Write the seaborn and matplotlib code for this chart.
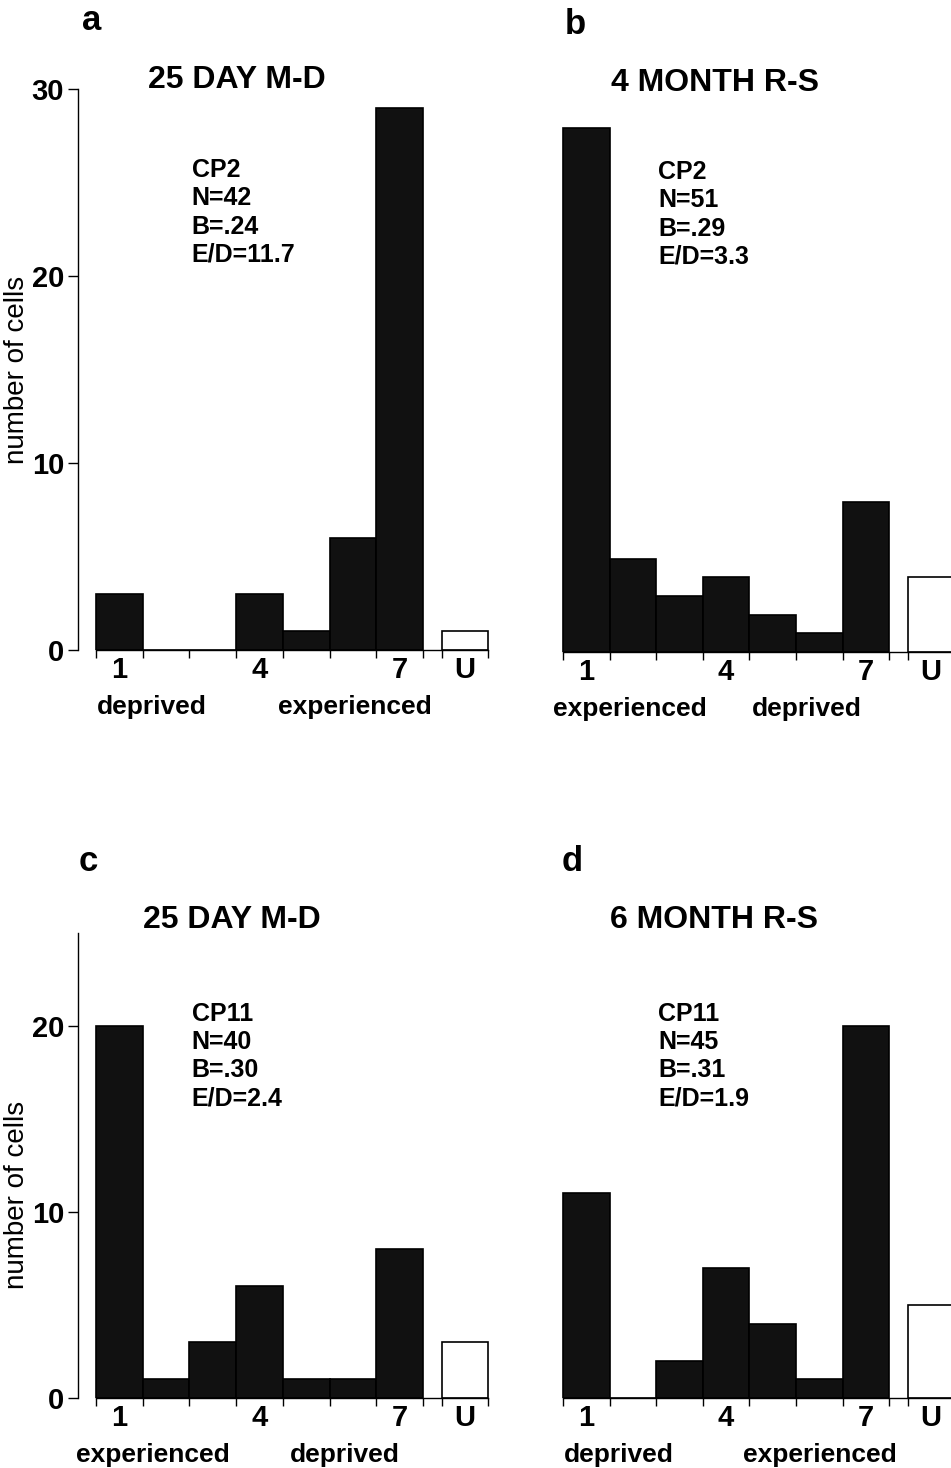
import numpy as np
import pandas as pd
import seaborn as sns
import matplotlib.pyplot as plt
from matplotlib.ticker import FixedLocator

# --- data ---
bins = [1, 2, 3, 4, 5, 6, 7]
u_pos = 8.4

a_counts = [3, 0, 0, 3, 1, 6, 29]
a_u = 1
b_counts = [28, 5, 3, 4, 2, 1, 8]
b_u = 4
c_counts = [20, 1, 3, 6, 1, 1, 8]
c_u = 3
d_counts = [11, 0, 2, 7, 4, 1, 20]
d_u = 5

titles = ["25 DAY M-D", "4 MONTH R-S", "25 DAY M-D", "6 MONTH R-S"]
letters = ["a", "b", "c", "d"]
notes = ["CP2\nN=42\nB=.24\nE/D=11.7",
         "CP2\nN=51\nB=.29\nE/D=3.3",
         "CP11\nN=40\nB=.30\nE/D=2.4",
         "CP11\nN=45\nB=.31\nE/D=1.9"]
xlabels = [("deprived", 1.7, "experienced", 6.05),
           ("experienced", 1.94, "deprived", 5.74),
           ("experienced", 1.72, "deprived", 5.83),
           ("deprived", 1.7, "experienced", 6.02)]
tick_names = ["1", "4", "7", "U"]

sns.set_style("ticks")
plt.rcParams['font.family'] = ['Liberation Sans', 'DejaVu Sans']
for k in ["text.color", "axes.labelcolor", "xtick.color", "ytick.color", "axes.edgecolor"]:
    plt.rcParams[k] = "black"

W, H = 951, 1468
fig = plt.figure(figsize=(W / 100, H / 100), dpi=100)

def px_ax(left, bottom_px, top_px, width_px):
    return fig.add_axes([left / W, 1 - bottom_px / H, width_px / W, (bottom_px - top_px) / H])

axes = [px_ax(78, 650, 89, 415), px_ax(545, 652, 91, 414),
        px_ax(78, 1398, 933, 415), px_ax(545, 1398, 933, 414)]
ylims = [30, 30, 25, 25]
counts = [(a_counts, a_u), (b_counts, b_u), (c_counts, c_u), (d_counts, d_u)]

for i, ax in enumerate(axes):
    cnt, u = counts[i]
    df = pd.DataFrame({"pos": bins + [u_pos],
                       "count": cnt + [u],
                       "kind": ["bin"] * 7 + ["U"]})
    sns.barplot(data=df, x="pos", y="count", hue="kind",
                palette={"bin": "#111111", "U": "white"},
                native_scale=True, dodge=False, width=1, errorbar=None,
                edgecolor="black", linewidth=1.2, legend=False, ax=ax)
    ax.set_xlim(0.115, 9.0)
    ax.set_ylim(0, ylims[i])
    ax.set_xlabel("")
    ax.set_ylabel("")
    for s in ["top", "right"]:
        ax.spines[s].set_visible(False)
    ax.spines["bottom"].set_bounds(0.5, u_pos + 0.5)
    ax.spines["bottom"].set_linewidth(1.0)

    # bin edges as small ticks, labels at bin centres
    ax.set_xticks([1, 4, 7, u_pos])
    ax.set_xticklabels(tick_names, fontsize=21, fontweight="bold")
    ax.xaxis.set_minor_locator(FixedLocator([b + 0.5 for b in [0] + bins] + [u_pos - 0.5, u_pos + 0.5]))
    ax.tick_params(axis="x", which="major", length=0, pad=4)
    ax.tick_params(axis="x", which="minor", length=6, width=1, direction="out")

    if i % 2 == 0:
        ax.spines["left"].set_bounds(0, ylims[i])
        ax.spines["left"].set_linewidth(1.0)
        ax.set_yticks([0, 10, 20, 30] if ylims[i] == 30 else [0, 10, 20])
        ax.set_yticklabels(ax.get_yticks(), fontsize=21, fontweight="bold")
        ax.tick_params(axis="y", length=7, width=1, pad=3)
    else:
        ax.spines["left"].set_visible(False)
        ax.set_yticks([])

    l1, x1, l2, x2 = xlabels[i]
    for lab, xx in [(l1, x1), (l2, x2)]:
        ax.annotate(lab, xy=(xx, 0), xytext=(0, -41), textcoords="offset points",
                    ha="center", va="center", fontsize=19, fontweight="bold")

    top = 26.3 if ylims[i] == 30 else 21.3
    ax.text(2.55, top, notes[i], ha="left", va="top", fontsize=18,
            fontweight="bold", linespacing=1.22)

# titles, panel letters, y labels
title_xy = [(237, 80), (715, 83), (232, 920), (714, 920)]
letter_xy = [(92, 20), (575, 25), (88, 862), (572, 862)]
for i in range(4):
    fig.text(title_xy[i][0] / W, 1 - title_xy[i][1] / H, titles[i],
             ha="center", va="center", fontsize=23, fontweight="bold")
    fig.text(letter_xy[i][0] / W, 1 - letter_xy[i][1] / H, letters[i],
             ha="center", va="center", fontsize=25, fontweight="bold")

for yy in [370, 1195]:
    fig.text(17 / W, 1 - yy / H, "number of cells", rotation=90,
             ha="center", va="center", fontsize=20)

fig.savefig("out.png", dpi=100)
